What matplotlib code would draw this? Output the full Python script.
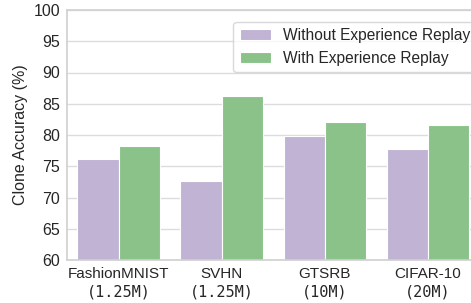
import numpy as np
import matplotlib
matplotlib.use("Agg")
from matplotlib import pyplot as plt

datasets = ["FashionMNIST", "SVHN", "GTSRB", "CIFAR-10"]
budgets = ["(1.25M)", "(1.25M)", "(10M)", "(20M)"]
without_er = [76.2, 72.7, 79.8, 77.8]
with_er = [78.2, 86.3, 82.1, 81.6]
series_names = ["Without Experience Replay", "With Experience Replay"]

plt.rcParams['font.family'] = ['Liberation Sans', 'DejaVu Sans']

fig = plt.figure(figsize=(4.71, 3.03), dpi=100)
ax = fig.add_axes([67/471, 43/303, 412.5/471, 250/303])

x = np.arange(len(datasets))
w = 0.4
ax.bar(x - w/2, without_er, w, color="#c0b3d4", edgecolor="white", linewidth=0.8, label=series_names[0])
ax.bar(x + w/2, with_er, w, color="#8ac289", edgecolor="white", linewidth=0.8, label=series_names[1])

ax.set_xlim(-0.5, len(datasets) - 0.5)
ax.set_ylim(60, 100)
ax.set_yticks(np.arange(60, 101, 5))
ax.yaxis.grid(True, color="#dcdcdc", linewidth=1)
ax.set_axisbelow(True)
for s in ax.spines.values():
    s.set_color("#d0d0d0")
    s.set_linewidth(1.2)
ax.tick_params(axis="y", length=0, labelsize=11.5, colors="#262626", pad=5)
ax.tick_params(axis="x", length=0, labelsize=11, colors="#262626", pad=5)
ax.set_xticks(x)
ax.set_xticklabels(datasets)
for i, b in enumerate(budgets):
    ax.annotate(b, xy=(x[i], 0), xycoords=("data", "axes fraction"), xytext=(0, -17.5),
                textcoords="offset points", ha="center", va="top", fontsize=11,
                family="DejaVu Sans Mono", color="#262626")
ax.set_ylabel("Clone Accuracy (%)", fontsize=11.5, color="#262626")

leg = ax.legend(loc="upper right", fontsize=11.2, frameon=True, handlelength=2.0,
                bbox_to_anchor=(1.012, 0.985))
leg.get_frame().set_edgecolor("#d0d0d0")
for t in leg.get_texts():
    t.set_color("#262626")

fig.savefig("out.png", dpi=100)
